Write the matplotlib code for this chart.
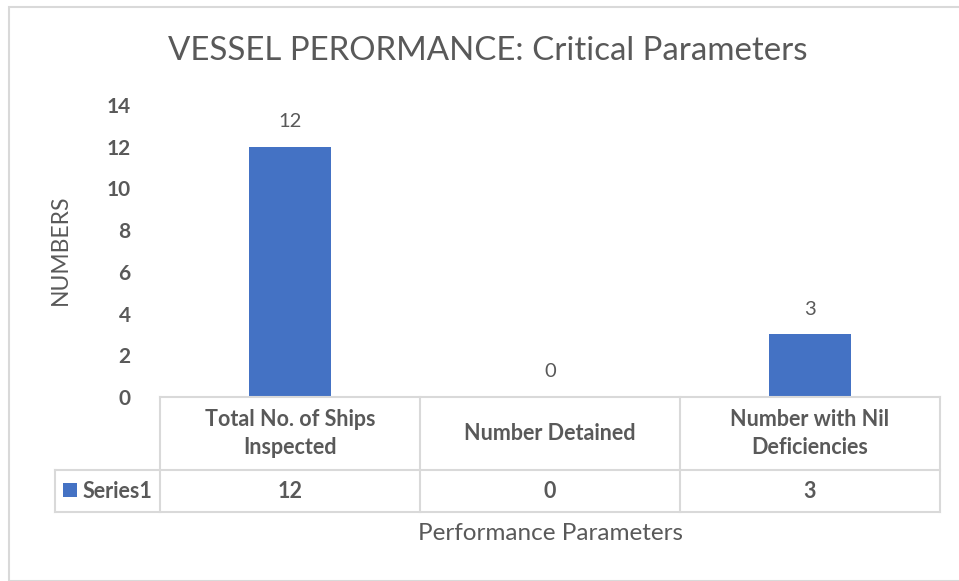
import matplotlib
matplotlib.use("Agg")
import matplotlib.pyplot as plt
from matplotlib.patches import Rectangle
from matplotlib.transforms import blended_transform_factory

categories = ["Total No. of Ships\nInspected", "Number Detained", "Number with Nil\nDeficiencies"]
values = [12, 0, 3]
series_name = "Series1"
yticks = [0, 2, 4, 6, 8, 10, 12, 14]

TXT = "#595959"
BAR = "#4472C4"
GRID = "#D9D9D9"
FONT = "Lato"

W, H = 959, 581
fig = plt.figure(figsize=(W / 100, H / 100), dpi=100)

# outer chart border
fig.add_artist(Rectangle((9 / W, 0), 1.0, 1 - 7 / H, transform=fig.transFigure,
                         fill=False, edgecolor=GRID, linewidth=1.5))

AX_H = 292.0
ax = fig.add_axes([160 / W, 1 - 397 / H, 780 / W, AX_H / H])
x = list(range(len(categories)))
bars = ax.bar(x, values, width=0.315, color=BAR)
ax.set_xlim(-0.5, len(categories) - 0.5)
ax.set_ylim(0, 14)
ax.set_yticks(yticks)
ax.set_yticklabels([str(t) for t in yticks], fontfamily=FONT, fontweight="bold",
                   fontsize=15, color=TXT)
ax.tick_params(axis="y", length=0, pad=21)
ax.set_xticks([])
for s in ax.spines.values():
    s.set_visible(False)

ax.bar_label(bars, labels=[str(v) for v in values], padding=12,
             fontfamily=FONT, fontsize=14.5, color=TXT)

fig.text(488 / W, 1 - 51 / H, "VESSEL PERORMANCE: Critical Parameters", fontfamily=FONT,
         fontsize=23.8, color=TXT, ha="center", va="center")
fig.text(60 / W, 1 - 250 / H, "NUMBERS", fontfamily=FONT, fontsize=16.5, color=TXT,
         ha="center", va="center", rotation=90)
fig.text(550 / W, 1 - 533 / H, "Performance Parameters", fontfamily=FONT,
         fontsize=17.5, color=TXT, ha="center", va="center")

# data table (x in category units, y in axes fraction)
tr = blended_transform_factory(ax.transData, ax.transAxes)
y_top, y_mid, y_bot = 0.0, -73 / AX_H, -115 / AX_H
x_lab = -0.5 - 105 / 260
edges = [i - 0.5 for i in range(len(categories) + 1)]
lw = 1.5
kw = dict(color=GRID, linewidth=lw, transform=tr, clip_on=False, solid_capstyle="projecting")
ax.plot([edges[0], edges[-1]], [y_top, y_top], **kw)
ax.plot([x_lab, edges[-1]], [y_mid, y_mid], **kw)
ax.plot([x_lab, edges[-1]], [y_bot, y_bot], **kw)
for e in edges:
    ax.plot([e, e], [y_top, y_bot], **kw)
ax.plot([x_lab, x_lab], [y_mid, y_bot], **kw)

tkw = dict(transform=tr, fontfamily=FONT, fontweight="bold", fontsize=15.5, color=TXT,
           ha="center", va="center", clip_on=False)
for i, (c, v) in enumerate(zip(categories, values)):
    ax.text(i, (y_top + y_mid) / 2, c, linespacing=1.42, **tkw)
    ax.text(i, (y_mid + y_bot) / 2, str(v), **tkw)
ax.text(edges[0] - 8 / 260, (y_mid + y_bot) / 2, series_name,
        **{**tkw, "ha": "right"})

ax.add_patch(Rectangle(((63 - 160) / 780, -(497 - 397) / AX_H), 14 / 780, 14 / AX_H,
                       transform=ax.transAxes, clip_on=False, facecolor=BAR, edgecolor="none"))

fig.savefig("out.png", dpi=100)
